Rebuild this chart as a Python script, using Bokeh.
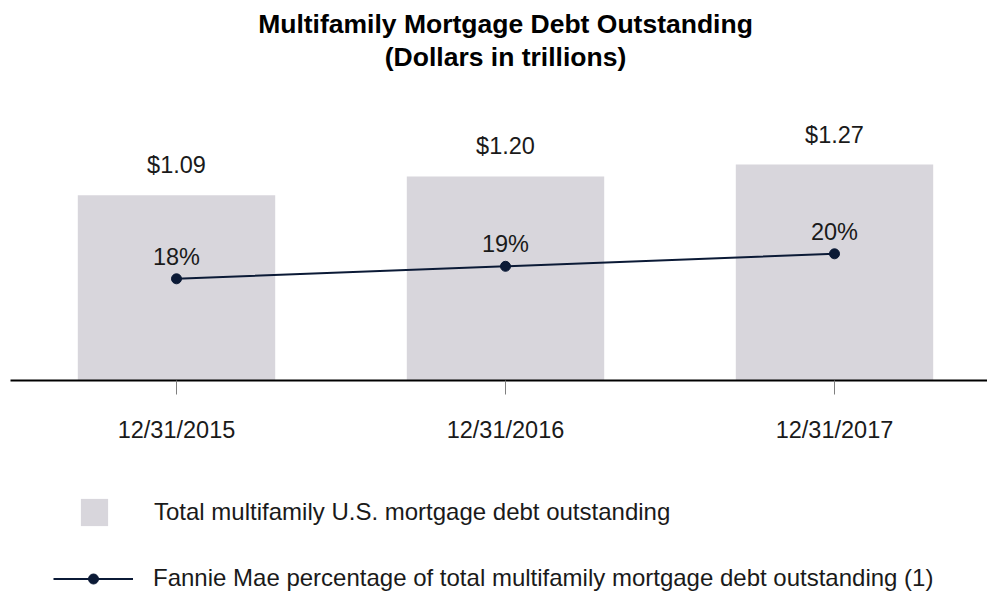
from bokeh.plotting import figure
from bokeh.layouts import column
from bokeh.models import (Range1d, FixedTicker, Label, Legend, LegendItem,
                          ColumnDataSource)
from bokeh.core.properties import value
from bokeh.embed import file_html
from bokeh.resources import INLINE

# ---- data ----
categories = ["12/31/2015", "12/31/2016", "12/31/2017"]
debt_trillions = [1.09, 1.20, 1.27]
fannie_pct = [18, 19, 20]
title_lines = ["Multifamily Mortgage Debt Outstanding", "(Dollars in trillions)"]
legend_labels = [
    "Total multifamily U.S. mortgage debt outstanding",
    "Fannie Mae percentage of total multifamily mortgage debt outstanding (1)",
]

FONT = "Liberation Sans"
BAR = "#d8d6dc"
NAVY = "#0b1a36"
TXT = "#1a1a1a"
W = 987
H_TOP, H_LEG = 450, 143
FS = "23.5px"
FS_LEG = "24px"

xpos = list(range(len(categories)))
src = ColumnDataSource(dict(
    x=xpos, debt=debt_trillions, pct=fannie_pct,
    debt_lbl=[f"${v:.2f}" for v in debt_trillions],
    pct_lbl=[f"{v}%" for v in fannie_pct],
))


def style_fig(f):
    f.outline_line_color = None
    f.xgrid.visible = False
    f.ygrid.visible = False
    f.background_fill_color = "white"
    f.border_fill_color = "white"


# ---- main chart ----
p = figure(width=W, height=H_TOP, output_backend="svg", toolbar_location=None,
           x_range=Range1d(-0.50456, 2.46505), y_range=Range1d(0, 2.23529),
           y_axis_location=None,
           min_border_left=10, min_border_right=0, min_border_top=0,
           min_border_bottom=70)
p.extra_y_ranges = {"pct": Range1d(9.864, 40.264)}
style_fig(p)

bar_kw = dict(width=0.6, fill_color=BAR, line_color=None)
line_kw = dict(line_color=NAVY, line_width=2)
pt_kw = dict(size=10, fill_color=NAVY, line_color=NAVY)

p.vbar(x="x", top="debt", bottom=0, source=src, **bar_kw)
p.line("x", "pct", source=src, y_range_name="pct", **line_kw)
p.scatter("x", "pct", source=src, y_range_name="pct", **pt_kw)

p.text("x", "debt", text="debt_lbl", source=src, text_align="center",
       text_baseline="middle", y_offset=-30, text_font=value(FONT),
       text_font_size=FS, text_color=TXT)
p.text("x", "pct", text="pct_lbl", source=src, y_range_name="pct",
       text_align="center", text_baseline="middle", y_offset=-22,
       text_font=value(FONT), text_font_size=FS, text_color=TXT)

ax = p.xaxis[0]
ax.ticker = FixedTicker(ticks=xpos)
ax.major_label_overrides = {i: c for i, c in zip(xpos, categories)}
ax.axis_line_color = "black"
ax.axis_line_width = 2
ax.major_tick_line_color = "#7f7f7f"
ax.major_tick_out = 14
ax.major_tick_in = 0
ax.minor_tick_line_color = None
ax.major_label_text_font = FONT
ax.major_label_text_font_size = FS
ax.major_label_text_color = TXT
ax.major_label_standoff = 22

for txt, yy in zip(title_lines, [357, 324]):
    p.add_layout(Label(x=495, y=yy, x_units="screen", y_units="screen",
                       text=txt, text_align="center", text_baseline="middle",
                       text_font=FONT, text_font_size="26.5px",
                       text_font_style="bold", text_color="black"))

# ---- legend strip (same series; glyphs lie far outside its view, only the legend shows) ----
q = figure(width=W, height=H_LEG, output_backend="svg", toolbar_location=None,
           x_range=Range1d(100, 110), y_range=Range1d(100, 110),
           x_axis_location=None, y_axis_location=None,
           min_border_left=0, min_border_right=0, min_border_top=0,
           min_border_bottom=0)
style_fig(q)
q_bars = q.vbar(x="x", top="debt", bottom=0, source=src, **bar_kw)
q_line = q.line("x", "pct", source=src, **line_kw)
q_pts = q.scatter("x", "pct", source=src, **pt_kw)

common = dict(padding=0, margin=0, border_line_color=None,
              background_fill_alpha=0, label_text_font=FONT,
              label_text_font_size=FS_LEG, label_text_color=TXT, spacing=0)
leg1 = Legend(items=[LegendItem(label=legend_labels[0], renderers=[q_bars])],
              location=(67, 64.5), glyph_width=34, glyph_height=34,
              label_standoff=43, **common)
leg2 = Legend(items=[LegendItem(label=legend_labels[1], renderers=[q_line, q_pts])],
              location=(43, 1), glyph_width=80, glyph_height=25,
              label_standoff=20, **common)
q.add_layout(leg1, "center")
q.add_layout(leg2, "center")

layout = column(p, q, spacing=0)
open("out.html", "w").write(file_html(layout, INLINE))
